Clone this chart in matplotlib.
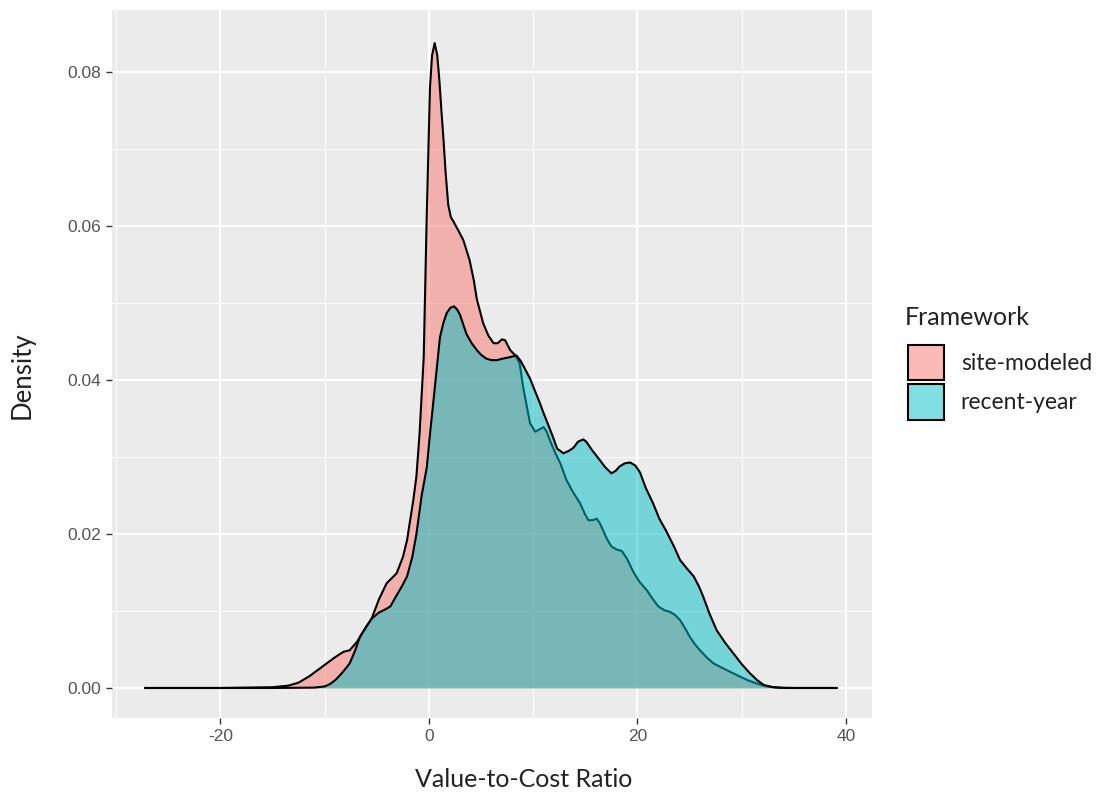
import numpy as np
import matplotlib
matplotlib.use("Agg")
import matplotlib.pyplot as plt
from matplotlib.patches import Patch
from matplotlib.colors import to_rgba
from matplotlib.ticker import MultipleLocator

plt.rcParams['axes.unicode_minus'] = False

# density curves (x = value-to-cost ratio, y = density)
site_x = [-27.2, -20, -15, -13.5, -12.5, -11.5, -10.5, -9.8, -9.0, -8.2, -7.6, -6.9, -6.2, -5.5,
          -4.8, -4.06, -3.1, -2.5, -2.1, -1.5, -1.2, -0.9, -0.5, -0.22, -0.06, 0.1, 0.3, 0.55,
          0.8, 1.0, 1.2, 1.4, 1.6, 1.85, 2.1, 2.4, 2.8, 3.3, 3.9, 4.3, 4.6, 5.2, 5.7, 6.2, 6.6,
          7.0, 7.3, 7.8, 8.3, 8.7, 9.05, 9.4, 9.7, 10.2, 10.6, 11.0, 11.3, 11.6, 12.1, 12.6,
          13.2, 13.8, 14.5, 15.0, 15.3, 15.7, 16.1, 16.4, 16.7, 17.1, 17.5, 18.0, 18.5, 19.0,
          19.6, 20.2, 20.9, 21.5, 22.0, 22.6, 23.1, 23.6, 24.1, 24.6, 25.0, 25.5, 26.0, 26.7,
          27.3, 28.0, 28.6, 29.2, 29.8, 30.6, 31.4, 32.4, 33.5, 35.0, 39.1]
site_y = [0, 0, 0.0001, 0.0003, 0.0007, 0.0015, 0.0025, 0.0032, 0.0040, 0.0047, 0.0049, 0.006,
          0.0075, 0.009, 0.0115, 0.0136, 0.0149, 0.017, 0.0192, 0.0244, 0.0275, 0.033, 0.043,
          0.0608, 0.0694, 0.078, 0.0822, 0.0838, 0.0822, 0.079, 0.075, 0.0712, 0.067, 0.0628,
          0.0612, 0.0605, 0.0595, 0.0582, 0.0556, 0.053, 0.0505, 0.0474, 0.0458, 0.0448, 0.0448,
          0.0453, 0.0452, 0.0439, 0.0432, 0.0422, 0.039, 0.0365, 0.0344, 0.0333, 0.0336, 0.0339,
          0.0333, 0.0322, 0.0306, 0.0292, 0.027, 0.0255, 0.024, 0.0225, 0.0218, 0.0218, 0.022,
          0.0214, 0.0205, 0.0193, 0.0184, 0.018, 0.0178, 0.0168, 0.0151, 0.0138, 0.0127, 0.0115,
          0.0106, 0.0101, 0.0099, 0.0095, 0.0088, 0.0077, 0.0067, 0.0057, 0.0049, 0.0039, 0.0032,
          0.0027, 0.0023, 0.0019, 0.0015, 0.001, 0.0006, 0.0002, 0.00005, 0.0, 0]

recent_x = [-27.2, -15, -11, -10, -9.5, -9.0, -8.5, -8.0, -7.6, -7.1, -6.6, -6.0, -5.5, -4.8,
            -4.2, -3.7, -3.2, -2.6, -2.1, -1.6, -1.2, -0.7, -0.2, 0.1, 0.41, 0.75, 1.06, 1.4,
            1.7, 2.05, 2.4, 2.7, 2.98, 3.3, 3.6, 4.1, 4.6, 5.0, 5.5, 6.0, 6.5, 7.1, 7.8, 8.4,
            8.8, 9.2, 9.7, 10.2, 10.65, 11.0, 11.5, 11.9, 12.3, 12.9, 13.4, 13.85, 14.3, 14.8,
            15.1, 15.6, 16.0, 16.4, 16.9, 17.5, 17.9, 18.3, 18.8, 19.3, 19.8, 20.25, 20.8, 21.5,
            22.1, 22.8, 23.5, 24.1, 24.7, 25.4, 25.9, 26.3, 26.9, 27.6, 28.4, 29.2, 30.0, 30.8,
            31.5, 32.1, 33.0, 34.0, 39.1]
recent_y = [0, 0, 0.00005, 0.0002, 0.0005, 0.001, 0.0017, 0.0025, 0.0032, 0.0048, 0.0067, 0.008,
            0.009, 0.0098, 0.0102, 0.0106, 0.0118, 0.0132, 0.0145, 0.017, 0.020, 0.025, 0.0287,
            0.033, 0.037, 0.0415, 0.0456, 0.0475, 0.0487, 0.0494, 0.0496, 0.0492, 0.0485, 0.0472,
            0.046, 0.0448, 0.0439, 0.0433, 0.0428, 0.0426, 0.0426, 0.0428, 0.043, 0.0432, 0.0425,
            0.0415, 0.0402, 0.0385, 0.037, 0.0357, 0.034, 0.0326, 0.0311, 0.0305, 0.0308, 0.0312,
            0.032, 0.0323, 0.032, 0.031, 0.0303, 0.0296, 0.0287, 0.0279, 0.0282, 0.0288, 0.0292,
            0.0293, 0.0289, 0.028, 0.026, 0.024, 0.022, 0.0203, 0.0184, 0.0166, 0.0156, 0.0145,
            0.0132, 0.0119, 0.0097, 0.0075, 0.0059, 0.0045, 0.0031, 0.0019, 0.001, 0.0004,
            0.0001, 0.0, 0]

groups = ["site-modeled", "recent-year"]
fills = ["#F8766D", "#00BFC4"]

fig = plt.figure(figsize=(11.02, 7.95), dpi=100)
ax = fig.add_axes([112/1102, 1 - 718/795, 760/1102, 708/795])
ax.set_facecolor("#EBEBEB")

ax.fill_between(site_x, site_y, color=fills[0], alpha=0.5, lw=0, zorder=2)
ax.plot(site_x, site_y, color="black", lw=1.5, zorder=3, solid_joinstyle="round")
ax.fill_between(recent_x, recent_y, color=fills[1], alpha=0.5, lw=0, zorder=4)
ax.plot(recent_x, recent_y, color="black", lw=1.5, zorder=5, solid_joinstyle="round")

ax.set_xlim(-30.4, 42.5)
ax.set_ylim(-0.0039, 0.0881)
ax.xaxis.set_major_locator(MultipleLocator(20))
ax.xaxis.set_minor_locator(MultipleLocator(10))
ax.yaxis.set_major_locator(MultipleLocator(0.02))
ax.yaxis.set_minor_locator(MultipleLocator(0.01))
ax.yaxis.set_major_formatter(plt.FuncFormatter(lambda v, p: "%.2f" % v))
ax.grid(which="major", color="white", lw=1.5, zorder=0)
ax.grid(which="minor", color="white", lw=0.7, zorder=0)
ax.set_axisbelow(True)
for s in ax.spines.values():
    s.set_visible(False)
ax.tick_params(which="major", length=4, width=1, color="#333333", labelcolor="#555555",
               labelsize=12.5)
ax.tick_params(axis="x", pad=4)
ax.tick_params(which="minor", length=0)
for lab in ax.get_xticklabels() + ax.get_yticklabels():
    lab.set_family("Liberation Sans")

ax.set_xlabel("Value-to-Cost Ratio", family="Lato", fontsize=18, color="#222222")
ax.set_ylabel("Density", family="Lato", fontsize=18.5, color="#222222")
ax.xaxis.set_label_coords((524 - 112) / 760, (718 - 768) / 708)
ax.yaxis.set_label_coords((35 - 112) / 760, (718 - 375) / 708)

# legend: title drawn as plain text, keys as square patches
fig.text(905/1102, 1 - 325/795, "Framework", family="Lato", fontsize=18, color="#222222",
         ha="left", va="baseline")
handles = [Patch(facecolor=to_rgba(c, 0.5), edgecolor="black", lw=1.5) for c in fills]
leg = fig.legend(handles, groups, loc="upper left",
                 bbox_to_anchor=(887/1102, 1 - 324/795), frameon=False,
                 prop={"family": "Lato", "size": 16.5},
                 handlelength=1.57, handleheight=2.0, labelspacing=0.18, handletextpad=0.75)
for t in leg.get_texts():
    t.set_color("#222222")

fig.savefig("out.png", dpi=100)
